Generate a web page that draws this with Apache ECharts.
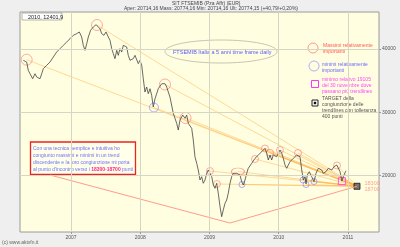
<!DOCTYPE html>
<html><head><meta charset="utf-8">
<script src="https://cdn.jsdelivr.net/npm/echarts@6/dist/echarts.min.js"></script>
<style>html,body{margin:0;padding:0;background:#efefef}#c{width:400px;height:247px}</style>
</head><body><div id="c"></div>
<script>
// ---- data ----
const priceX = [2006.311,2006.360,2006.383,2006.408,2006.447,2006.480,2006.505,2006.528,2006.552,2006.577,2006.600,2006.649,2006.697,2006.744,2006.793,2006.841,2006.889,2006.938,2006.986,2007.033,2007.082,2007.120,2007.154,2007.178,2007.202,2007.227,2007.250,2007.284,2007.322,2007.361,2007.386,2007.419,2007.443,2007.476,2007.505,2007.539,2007.563,2007.588,2007.611,2007.635,2007.660,2007.683,2007.707,2007.732,2007.755,2007.780,2007.804,2007.827,2007.852,2007.876,2007.899,2007.924,2007.949,2007.972,2007.996,2008.021,2008.044,2008.068,2008.093,2008.116,2008.141,2008.165,2008.188,2008.213,2008.237,2008.260,2008.285,2008.310,2008.333,2008.357,2008.382,2008.405,2008.429,2008.477,2008.526,2008.549,2008.574,2008.613,2008.646,2008.671,2008.694,2008.718,2008.743,2008.766,2008.790,2008.815,2008.838,2008.863,2008.887,2008.910,2008.935,2008.960,2008.983,2009.007,2009.032,2009.055,2009.079,2009.104,2009.127,2009.152,2009.176,2009.199,2009.224,2009.248,2009.271,2009.296,2009.320,2009.344,2009.368,2009.393,2009.416,2009.440,2009.465,2009.488,2009.513,2009.537,2009.560,2009.610,2009.657,2009.705,2009.754,2009.801,2009.826,2009.849,2009.874,2009.898,2009.921,2009.970,2010.018,2010.043,2010.066,2010.090,2010.115,2010.138,2010.163,2010.210,2010.259,2010.282,2010.307,2010.332,2010.355,2010.379,2010.394,2010.412,2010.441,2010.476,2010.509,2010.538,2010.571,2010.596,2010.620,2010.643,2010.682,2010.716,2010.765,2010.798,2010.837,2010.860,2010.885,2010.912,2010.932,2010.957,2010.971];
const priceY = [38210,37940,36630,36090,35300,36090,35570,35840,35300,36090,36880,37420,37940,38730,39520,40050,40580,41110,41630,42170,42420,42690,41900,40580,39790,40840,41900,42960,43480,43840,43750,43210,42420,42170,42690,41900,41380,40050,39260,38470,39790,39000,40050,39520,40580,40840,40320,39000,38210,37940,38470,39000,39260,37680,38210,37420,35300,33200,33990,32930,33720,32680,30830,32140,32930,33720,33990,34510,34780,34510,33990,33200,32410,29830,28250,27190,28770,29560,29040,29560,28250,28510,27460,25610,22970,21930,20870,19290,19810,18770,19290,20350,20870,20600,19810,18500,17980,18770,17190,15070,13490,14550,15600,16130,17190,18770,19810,20350,20600,20350,20600,20080,19020,18500,19290,20350,21140,21930,22720,23240,23760,24300,23510,22450,23240,22450,23240,22970,24030,23510,22720,21660,21140,21660,22180,22720,23240,23510,22970,20870,19290,19810,18660,20080,20600,19810,19020,20350,21140,21390,20870,20350,20600,21140,20870,21390,21660,21390,20600,19105,19810,20440,20742.3];
const maxX = [2006.360,2007.375,2008.357,2008.654,2009.007,2009.108,2009.411,2009.657,2009.801,2009.874,2010.018,2010.278,2010.841];
const maxY = [38310,43790,34390,29090,20710,18660,20630,22610,24270,23600,24030,23560,21580];
const minX = [2008.198,2009.469,2010.350,2010.394,2010.509];
const minY = [30750,18580,19290,18580,19050];
const keyMinX = [2010.912];
const keyMinY = [19105];
const targetX = [2011.130];
const targetY = [18300];
const wedgeX = [2006.697,2009.296,2011.130];
const wedgeY = [20080,12490,18300];
const yTicks = [20000,30000,40000];
const xTicks = [2007,2008,2009,2010,2011];
const lastValue = 20742.3;
const targetLow = '18300', targetHigh = '18700';

// ---- build ----
const price = priceX.map((x,i)=>[x,priceY[i]]);
const maxPts = maxX.map((x,i)=>[x,maxY[i]]);
const minPts = minX.map((x,i)=>[x,minY[i]]);
const tgt = [targetX[0],targetY[0]];
const trend = maxPts.concat(minPts).map(p=>({coords:[p,tgt]}));
const XMIN=2006.2635, XMAX=2011.4477, YMIN=11070, YMAX=45850;
const gridLines = yTicks.map(v=>({yAxis:v})).concat(xTicks.map(v=>({xAxis:v})));

const chart = echarts.init(document.getElementById('c'),null,{renderer:'canvas'});
const F = 'Liberation Sans, Arial, sans-serif';
chart.setOption({
  backgroundColor:'#efefef',
  animation:false,
  textStyle:{fontFamily:F},
  grid:{left:20,top:12,right:21,bottom:15,show:true,backgroundColor:'#fffee0',borderColor:'#9a9a9a',borderWidth:1},
  xAxis:{type:'value',min:XMIN,max:XMAX,
    axisLine:{show:false},splitLine:{show:false},
    axisTick:{show:true,customValues:xTicks,length:2,lineStyle:{color:'#999'}},
    axisLabel:{customValues:xTicks,fontSize:5,color:'#555',margin:3,formatter:v=>String(Math.round(v))}},
  yAxis:{type:'value',position:'right',min:YMIN,max:YMAX,
    axisLine:{show:false},splitLine:{show:false},
    axisTick:{show:true,customValues:yTicks,length:2,lineStyle:{color:'#999'}},
    axisLabel:{customValues:yTicks,fontSize:5,color:'#555',margin:3,formatter:v=>String(Math.round(v))}},
  series:[
    {type:'line',data:[],silent:true,markLine:{silent:true,symbol:'none',label:{show:false},
      lineStyle:{color:'#d6d6c4',type:'solid',width:1},data:gridLines}},
    {type:'lines',coordinateSystem:'cartesian2d',silent:true,
      lineStyle:{color:'#ffb347',width:1,opacity:0.5},data:trend},
    {type:'line',data:wedgeX.map((x,i)=>[x,wedgeY[i]]),symbol:'none',silent:true,
      lineStyle:{color:'#ff9c8c',width:1}},
    {type:'line',data:price,symbol:'none',silent:true,
      lineStyle:{color:'#444',width:0.8},
      markLine:{silent:true,symbol:'none',lineStyle:{opacity:0},
        label:{show:true,position:'end',formatter:'20742,3',color:'#fff',backgroundColor:'#111',
          fontSize:5,padding:[1,2],distance:2},
        data:[{yAxis:lastValue}]}},
    {type:'scatter',data:maxPts,symbol:'circle',silent:true,
      symbolSize:(v,p)=>{ if(p.dataIndex===6) return [13,7]; return v[0]<2008.8?11:7; },
      itemStyle:{color:'rgba(0,0,0,0)',borderColor:'#ff7b7b',borderWidth:0.8}},
    {type:'scatter',data:minPts,symbol:'circle',silent:true,
      symbolSize:(v)=>v[0]<2009?9:6,
      itemStyle:{color:'rgba(0,0,0,0)',borderColor:'#7b7bff',borderWidth:0.8}},
    {type:'scatter',data:keyMinX.map((x,i)=>[x,keyMinY[i]]),symbol:'rect',symbolSize:7,silent:true,
      itemStyle:{color:'rgba(0,0,0,0)',borderColor:'#ff33ff',borderWidth:1}},
    {type:'scatter',data:[tgt],symbol:'rect',symbolSize:6,silent:true,
      itemStyle:{color:'#555',borderColor:'#111',borderWidth:1},
      label:{show:true,position:'right',distance:4,formatter:targetLow+'\n'+targetHigh,
        color:'#ff8c7c',fontSize:5.5,lineHeight:6}}
  ],
  graphic:[
    {type:'text',x:172,y:1,style:{text:'SIT FTSEMIB (Pza Affr) (EUR)',fontSize:5,fill:'#444',fontFamily:F}},
    {type:'text',x:124,y:6,style:{text:'Aper: 20714,16 Mass: 20774,16 Min: 20714,16 Ult: 20774,15 (+40,79/+0,20%)',fontSize:5,fill:'#444',fontFamily:F}},
    {type:'rect',shape:{x:22,y:13,width:40,height:7},style:{fill:'#fff',stroke:'#888',lineWidth:0.6}},
    {type:'text',x:28,y:14,style:{text:'2010, 12401,9',fontSize:5.5,fill:'#222',fontFamily:F}},
    {type:'ellipse',shape:{cx:221,cy:51.5,rx:56,ry:11.5},style:{fill:'rgba(0,0,0,0)',stroke:'#b8b8a8',lineWidth:0.8}},
    {type:'text',x:173,y:49,style:{text:'FTSEMIB Italia a 5 anni time frame daily',fontSize:5.5,fill:'#5a5aff',fontFamily:F}},
    {type:'circle',shape:{cx:313,cy:48,r:5},style:{fill:'rgba(0,0,0,0)',stroke:'#ff7b7b',lineWidth:0.8}},
    {type:'text',x:323,y:43,style:{text:'Massimi relativamente\nimportanti',fontSize:5,lineHeight:6,fill:'#ff5a5a',fontFamily:F}},
    {type:'circle',shape:{cx:314,cy:66,r:5},style:{fill:'rgba(0,0,0,0)',stroke:'#9a9aff',lineWidth:0.8}},
    {type:'text',x:322,y:62,style:{text:'minimi relativamente\nimportanti',fontSize:5,lineHeight:6,fill:'#6a6aff',fontFamily:F}},
    {type:'rect',shape:{x:311.5,y:80.5,width:7,height:7},style:{fill:'rgba(0,0,0,0)',stroke:'#ff33ff',lineWidth:1}},
    {type:'text',x:322,y:76.5,style:{text:'minimo relativo 19105\ndel 30 novembre dove\npassano più trendlines',fontSize:5,lineHeight:6,fill:'#ff44ff',fontFamily:F}},
    {type:'rect',shape:{x:312,y:100,width:6,height:6},style:{fill:'#fff',stroke:'#222',lineWidth:1}},
    {type:'rect',shape:{x:313.8,y:101.8,width:2.4,height:2.4},style:{fill:'#111'}},
    {type:'text',x:322,y:96,style:{text:'TARGET della\ncongiunzione delle\ntrendlines con tolleranza\n400 punti',fontSize:5,lineHeight:6,fill:'#555',fontFamily:F}},
    {type:'rect',shape:{x:30.5,y:142,width:105,height:32.5},style:{fill:'rgba(255,255,240,0.6)',stroke:'#ee2222',lineWidth:1.3}},
    {type:'text',x:33,y:145,style:{rich:{b:{fill:'#7070ff',fontSize:5,lineHeight:7},m:{fill:'#ff2288',fontSize:5,lineHeight:7,fontWeight:'bold'}},
      text:'{b|Con una tecnica semplice e intuitiva ho}\n{b|congiunto massimi e minimi in un trend}\n{b|discendente e la loro congiunzione mi porta}\n{b|al punto d\'incontro verso i }{m|18300-18700}{b| punti}',fontFamily:F}},
    {type:'text',x:2,y:240,style:{text:'(c) www.aktvfn.it',fontSize:5,fill:'#666',fontFamily:F}}
  ]
});
</script></body></html>
